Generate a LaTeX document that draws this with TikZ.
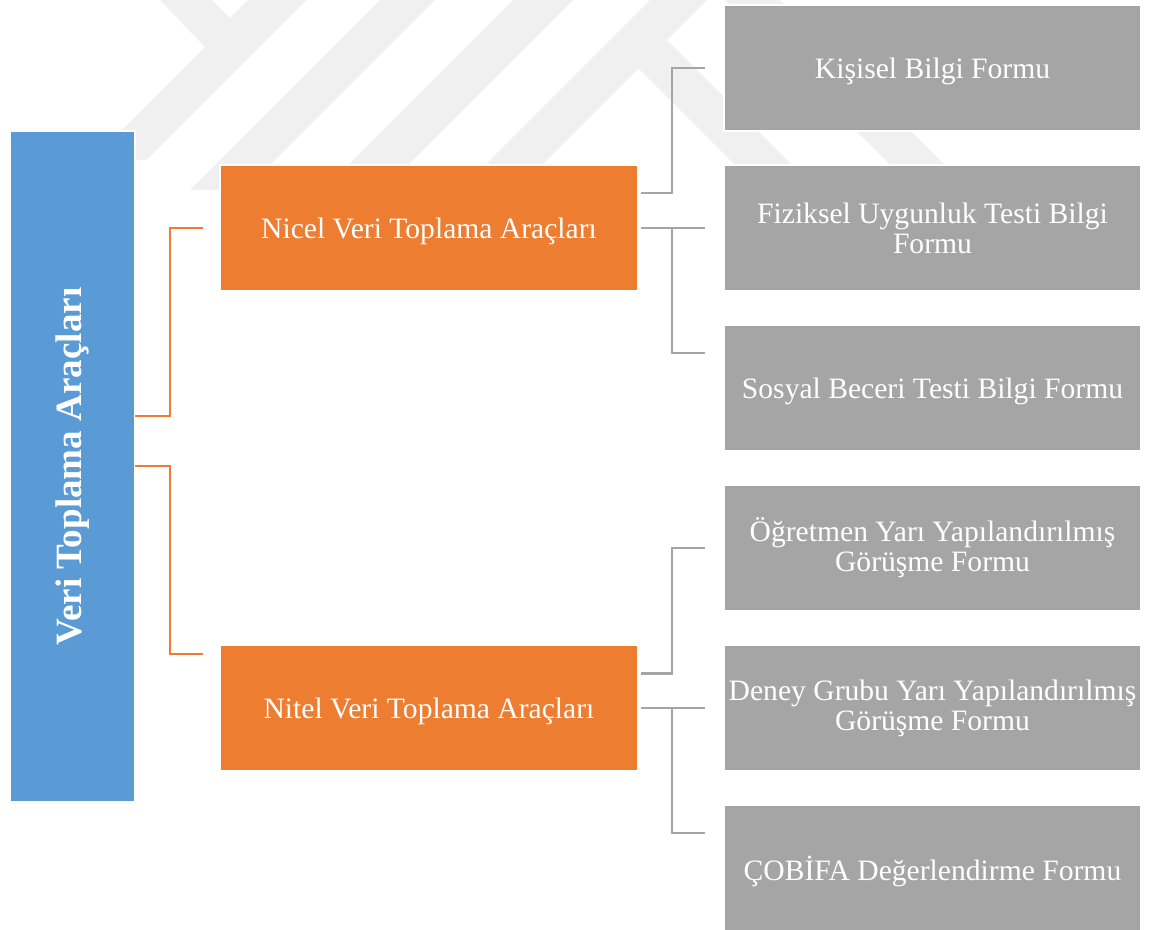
\documentclass[tikz,border=0pt]{standalone}
\usepackage{fontspec}
\setmainfont{Liberation Serif}
\usetikzlibrary{calc}

\definecolor{rootblue}{HTML}{5B9BD5}
\definecolor{midorange}{HTML}{ED7D31}
\definecolor{leafgray}{HTML}{A5A5A5}
\definecolor{markgray}{RGB}{240,240,240}

\tikzset{
  basebox/.style={draw=white, line width=1pt, inner sep=0pt, outer sep=0pt,
    anchor=north west, align=center, text=white,
    font=\fontsize{22.2pt}{22.6pt}\selectfont},
  oneline/.style={text depth=0pt},
  rootbox/.style={basebox, fill=rootblue, minimum width=93.75pt, minimum height=503.25pt},
  midbox/.style={basebox, oneline, fill=midorange, minimum width=313.5pt, minimum height=94.5pt},
  leafbox/.style={basebox, fill=leafgray, minimum width=312.75pt, minimum height=94.5pt},
  oline/.style={draw=midorange, line width=2.1pt},
  gline/.style={draw=leafgray, line width=1.8pt},
  stripe/.style={fill=markgray, draw=none}
}

\begin{document}
\begin{tikzpicture}[x=0.75pt, y=-0.75pt]
\useasboundingbox (0,0) rectangle (1149,930);

% faint logo stripes in the background
\fill[stripe] (160,0) -- (212,0) -- (230,18) -- (248,0) -- (307,0) -- (147,160) -- (92,160) -- (205,47) -- cycle;
\fill[stripe] (380,0) -- (435,0) -- (245,190) -- (190,190) -- cycle;
\fill[stripe] (513,0) -- (573,0) -- (408,165) -- (348,165) -- cycle;
\fill[stripe] (650,0) -- (707,0) -- (542,165) -- (485,165) -- cycle;
\fill[stripe] (637,67) -- (667,40) -- (792,165) -- (735,165) -- cycle;
\fill[stripe] (725,0) -- (780,0) -- (945,165) -- (890,165) -- cycle;

% boxes
\node[rootbox] (root) at (10,131) {};
\node[rotate=90, text=white, font=\bfseries\fontsize{27.8pt}{28pt}\selectfont]
  (roottext) at (root.center) {Veri Toplama Araçları};

\node[midbox] (nicel) at (220,165) {Nicel Veri Toplama Araçları};
\node[midbox] (nitel) at (220,645) {Nitel Veri Toplama Araçları};

\node[leafbox, oneline] (g1) at (724,5)   {Kişisel Bilgi Formu};
\node[leafbox] (g2) at (724,165) {Fiziksel Uygunluk Testi Bilgi\\Formu};
\node[leafbox, oneline] (g3) at (724,325) {Sosyal Beceri Testi Bilgi Formu};
\node[leafbox] (g4) at (724,485) {Öğretmen Yarı Yapılandırılmış\\Görüşme Formu};
\node[leafbox] (g5) at (724,645) {Deney Grubu Yarı Yapılandırılmış\\Görüşme Formu};
\node[leafbox, oneline] (g6) at (724,805) {ÇOBİFA Değerlendirme Formu};

% root to the two groups
\draw[oline] ($(root.north east)+(0,285)$) -| ($(nicel.west)+(-50,0)$) -- ($(nicel.west)+(-17,0)$);
\draw[oline] ($(root.north east)+(0,335)$) -| ($(nitel.north west)+(-50,9)$) -- ($(nitel.north west)+(-17,9)$);

% quantitative group to its forms
\draw[gline] ($(nicel.east)+(3,-35)$) -| ($(g1.west)+(-52,0)$) -- ($(g1.west)+(-19,0)$);
\draw[gline] ($(nicel.east)+(3,0)$) -- ($(g2.west)+(-19,0)$);
\draw[gline] ($(g2.west)+(-52,0)$) |- ($(g3.north west)+(-19,28)$);

% qualitative group to its forms
\draw[gline] ($(nitel.east)+(3,-34.5)$) -| ($(g4.west)+(-52,0)$) -- ($(g4.west)+(-19,0)$);
\draw[gline] ($(nitel.east)+(3,0)$) -- ($(g5.west)+(-19,0)$);
\draw[gline] ($(g5.west)+(-52,0)$) |- ($(g6.north west)+(-19,28)$);
\end{tikzpicture}
\end{document}
